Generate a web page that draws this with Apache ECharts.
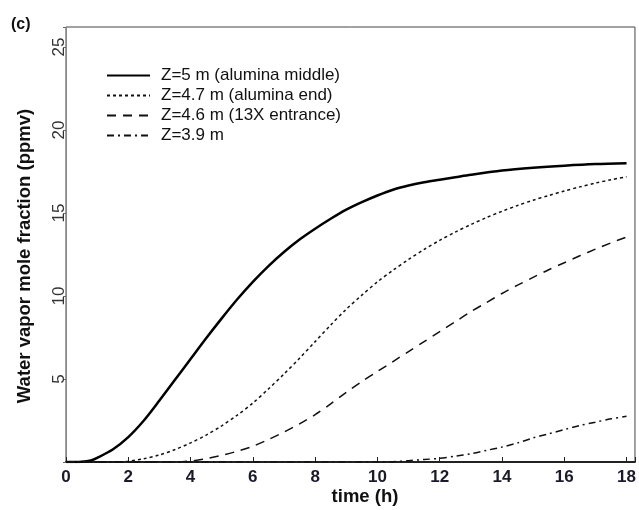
<!DOCTYPE html>
<html>
<head>
<meta charset="utf-8">
<script src="https://cdn.jsdelivr.net/npm/echarts@6/dist/echarts.min.js"></script>
<style>html,body{margin:0;padding:0;background:#fff;}#c{width:639px;height:510px;}</style>
</head>
<body>
<div id="c"></div>
<script>
var seriesNames = ['Z=5 m (alumina middle)', 'Z=4.7 m (alumina end)', 'Z=4.6 m (13X entrance)', 'Z=3.9 m'];
var xTicks = [0, 2, 4, 6, 8, 10, 12, 14, 16, 18];
var yTicks = [5, 10, 15, 20, 25];

var z50 = [[0,0],[0.5,0.02],[0.8,0.1],[1,0.25],[1.5,0.75],[2,1.5],[2.5,2.5],[3,3.7],[3.5,4.95],[4,6.2],[4.5,7.45],[5,8.65],[5.5,9.8],[6,10.85],[6.5,11.8],[7,12.65],[7.5,13.4],[8,14.05],[8.5,14.65],[9,15.2],[9.5,15.65],[10,16.05],[10.5,16.4],[11,16.65],[11.5,16.85],[12,17.0],[12.5,17.15],[13,17.3],[14,17.55],[15,17.72],[16,17.85],[17,17.95],[18,18.0]];
var z47 = [[0,0],[1.7,0],[2,0.05],[2.5,0.2],[3,0.42],[3.5,0.75],[4,1.15],[4.5,1.62],[5,2.18],[5.5,2.82],[6,3.55],[6.5,4.4],[7,5.3],[7.5,6.25],[8,7.25],[8.5,8.25],[9,9.2],[9.5,10.05],[10,10.85],[10.5,11.55],[11,12.2],[11.5,12.8],[12,13.35],[12.5,13.85],[13,14.3],[13.5,14.72],[14,15.1],[14.5,15.45],[15,15.77],[15.5,16.05],[16,16.32],[16.5,16.57],[17,16.8],[17.5,17.0],[18,17.18]];
var z46 = [[0,0],[3.5,0],[4,0.06],[4.5,0.2],[5,0.4],[5.5,0.65],[6,0.95],[6.5,1.35],[7,1.8],[7.5,2.3],[8,2.85],[8.5,3.5],[9,4.2],[9.5,4.85],[10,5.45],[10.5,6.05],[11,6.65],[11.5,7.25],[12,7.85],[12.5,8.45],[13,9.05],[13.5,9.6],[14,10.15],[14.5,10.65],[15,11.12],[15.5,11.58],[16,12.0],[16.5,12.42],[17,12.82],[17.5,13.2],[18,13.55]];
var z39 = [[0,0],[10,0],[10.5,0.02],[11,0.08],[11.5,0.15],[12,0.22],[12.5,0.35],[13,0.5],[13.5,0.7],[14,0.9],[14.5,1.15],[15,1.45],[15.5,1.7],[16,1.95],[16.5,2.2],[17,2.4],[17.5,2.6],[18,2.75]];

var seriesData = [z50, z47, z46, z39];
var lineStyles = [
  {width: 2.5, type: 'solid', color: '#000'},
  {width: 1.5, type: [3, 3], color: '#111'},
  {width: 1.5, type: [9, 7], color: '#111'},
  {width: 1.5, type: [7, 4, 2, 4], color: '#111'}
];

var chart = echarts.init(document.getElementById('c'), null, {renderer: 'canvas'});
var FONT = '"Liberation Sans", Arial, sans-serif';
var NARROW = '"Liberation Sans Narrow", "Liberation Sans", Arial, sans-serif';

var option = {
  animation: false,
  backgroundColor: '#fff',
  grid: {left: 66, right: 1, top: 27, bottom: 48, show: true, borderColor: '#444', borderWidth: 1, backgroundColor: 'transparent'},
  legend: {
    orient: 'vertical', left: 101, top: 62, itemWidth: 43, itemHeight: 14, itemGap: 3,
    data: seriesNames,
    itemStyle: {opacity: 0},
    textStyle: {fontFamily: FONT, fontSize: 17, lineHeight: 16, color: '#111', padding: [0, 0, 0, 6]}
  },
  xAxis: {
    type: 'value', min: 0, max: 18.27, interval: 2,
    splitLine: {show: false},
    axisLine: {lineStyle: {color: '#222', width: 2}},
    axisTick: {inside: true, length: 5, lineStyle: {color: '#222', width: 1}},
    axisLabel: {
      margin: 7, fontFamily: NARROW, fontSize: 17, fontWeight: 'bold', color: '#1a1a2a',
      formatter: function (v) { return xTicks.indexOf(v) >= 0 ? String(v) : ''; }
    }
  },
  yAxis: {
    type: 'value', min: 0, max: 26.2, interval: 5,
    splitLine: {show: false},
    axisLine: {show: true, lineStyle: {color: '#888', width: 1}},
    axisTick: {inside: false, length: 3, lineStyle: {color: '#666'}},
    axisLabel: {
      rotate: 90, margin: -2, fontFamily: NARROW, fontSize: 17, color: '#333',
      formatter: function (v) { return yTicks.indexOf(v) >= 0 ? String(v) : ''; }
    }
  },
  graphic: [
    {type: 'text', left: 11, top: 17, style: {text: '(c)', font: 'bold 16px ' + FONT, fill: '#111'}},
    {type: 'text', x: 24.5, y: 256, rotation: Math.PI / 2, style: {text: 'Water vapor mole fraction (ppmv)', font: 'bold 18.5px ' + FONT, fill: '#111', textAlign: 'center', textVerticalAlign: 'middle'}},
    {type: 'text', x: 365, y: 497, style: {text: 'time (h)', font: 'bold 18.5px ' + FONT, fill: '#111', textAlign: 'center', textVerticalAlign: 'middle'}}
  ],
  series: seriesNames.map(function (name, i) {
    return {
      name: name, type: 'line', data: seriesData[i], symbol: 'none', smooth: 0.3,
      lineStyle: lineStyles[i], itemStyle: {color: lineStyles[i].color}
    };
  })
};
chart.setOption(option);
</script>
</body>
</html>
